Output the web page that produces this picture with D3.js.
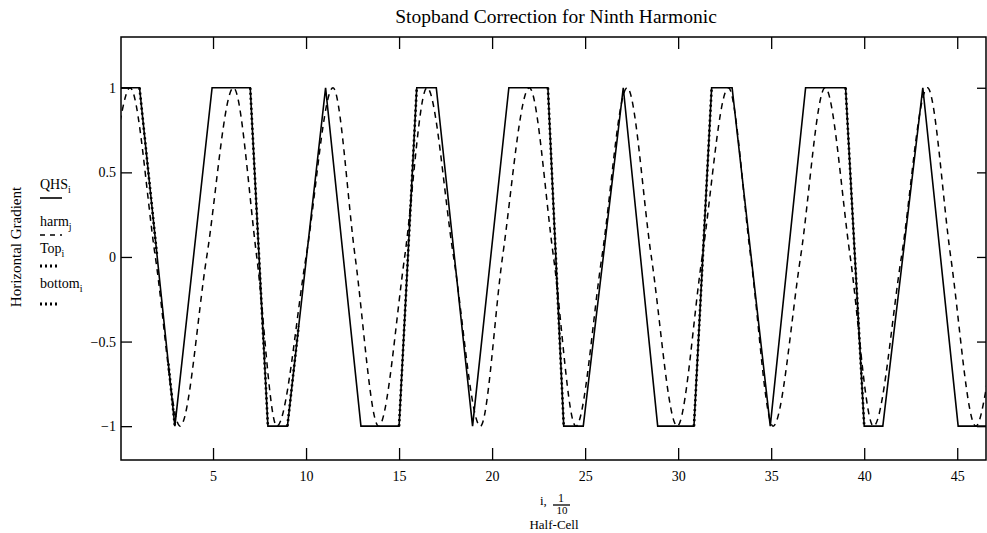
<!DOCTYPE html>
<html>
<head>
<meta charset="utf-8">
<script src="https://cdn.jsdelivr.net/npm/d3@7"></script>
<style>
  body { margin: 0; background: #fff; }
  svg { display: block; font-family: "Liberation Serif", "Times New Roman", serif; }
</style>
</head>
<body>
<svg id="chart" width="987" height="533"></svg>
<script>
// QHS - trapezoid / triangle wave (vertices)
var qhsX = [0, 1.05, 2.95, 4.95, 7.0, 7.95, 9.0, 11.05, 12.95, 15.0, 15.95, 17.0, 18.95, 20.9, 23.0, 23.85,
  24.9, 27.05, 28.9, 30.85, 31.8, 32.9, 34.95, 36.85, 39.0, 40.0, 41.0, 43.15, 45.05, 46.6];
var qhsY = [1, 1, -1, 1, 1, -1, -1, 1, -1, -1, 1, 1, -1, 1, 1, -1,
  -1, 1, -1, -1, 1, 1, -1, 1, 1, -1, -1, 1, -1, -1];

// harm - peaks, troughs and zero crossings
var harmX = [0, 0.54, 1.9, 3.23, 4.66, 6.1, 7.35, 8.43, 10.0, 11.45, 12.64, 13.9, 15.3, 16.5, 17.93, 19.37,
  20.56, 22.0, 23.3, 24.5, 25.9, 27.26, 28.56, 29.95, 31.29, 32.7, 33.9, 35.1, 36.58, 37.9, 39.25, 40.5,
  42.0, 43.4, 44.65, 46.0, 46.6];
var harmY = [0.8, 1, 0, -1, 0, 1, 0, -1, 0, 1, 0, -1, 0, 1, 0, -1,
  0, 1, 0, -1, 0, 1, 0, -1, 0, 1, 0, -1, 0, 1, 0, -1,
  0, 1, 0, -1, -0.75];

// Top / bottom - short dotted pieces lying on the steep edges
var topX = [1.05, 2.0, NaN, 7.0, 7.95, NaN, 23.0, 23.85, NaN, 39.0, 40.0];
var topY = [1, 0, NaN, 1, -1, NaN, 1, -1, NaN, 1, -1];
var bottomX = [2.6, 2.95, NaN, 9.0, 9.6, NaN, 15.0, 15.95, NaN, 30.85, 31.8];
var bottomY = [-0.63, -1, NaN, -1, -0.41, NaN, -1, 1, NaN, -1, 1];

var xTicks = [5, 10, 15, 20, 25, 30, 35, 40, 45];
var yTicks = [-1, -0.5, 0, 0.5, 1];
var yTickLabels = ["\u22121", "\u22120.5", "0", "0.5", "1"];

var plotL = 121, plotR = 986, plotT = 37, plotB = 460;

var svg = d3.select('#chart');

var x = d3.scaleLinear().domain([0, 46.6]).range([120, 987]);
var y = d3.scaleLinear().domain([-1.2, 1.3]).range([plotB, plotT]);

function pts(xs, ys) {
  return xs.map(function(v, i) { return [v, ys[i]]; });
}

// frame
svg.append('rect')
  .attr('x', plotL).attr('y', plotT)
  .attr('width', plotR - plotL).attr('height', plotB - plotT)
  .attr('fill', 'none').attr('stroke', '#000').attr('stroke-width', 1.5);

// bottom axis (ticks point up)
var xAxis = svg.append('g')
  .attr('transform', 'translate(0,' + plotB + ')')
  .call(d3.axisBottom(x).tickValues(xTicks).tickSizeInner(-12).tickSizeOuter(0).tickPadding(11));
// top ticks
var xTop = svg.append('g')
  .attr('transform', 'translate(0,' + plotT + ')')
  .call(d3.axisTop(x).tickValues(xTicks).tickSizeInner(-12).tickSizeOuter(0).tickFormat(''));
// left axis (ticks point right)
var yAxis = svg.append('g')
  .attr('transform', 'translate(' + plotL + ',0)')
  .call(d3.axisLeft(y).tickValues(yTicks).tickSizeInner(-11).tickSizeOuter(0).tickPadding(5)
    .tickFormat(function(d, i) { return yTickLabels[i]; }));
// right ticks
var yRight = svg.append('g')
  .attr('transform', 'translate(' + plotR + ',0)')
  .call(d3.axisRight(y).tickValues(yTicks).tickSizeInner(-9).tickSizeOuter(0).tickFormat(''));

[xAxis, xTop, yAxis, yRight].forEach(function(g) {
  g.select('.domain').remove();
  g.selectAll('line').attr('stroke', '#000').attr('stroke-width', 1.3);
  g.selectAll('text').attr('fill', '#000')
    .style('font-family', '"Liberation Serif", serif').style('font-size', '14px');
});

svg.append('clipPath').attr('id', 'plotclip')
  .append('rect').attr('x', plotL).attr('y', plotT).attr('width', plotR - plotL).attr('height', plotB - plotT);

var plot = svg.append('g').attr('clip-path', 'url(#plotclip)');

var line = d3.line()
  .defined(function(d) { return !isNaN(d[0]); })
  .x(function(d) { return x(d[0]); })
  .y(function(d) { return y(d[1]); });

plot.append('path')
  .datum(pts(harmX, harmY))
  .attr('fill', 'none').attr('stroke', '#000').attr('stroke-width', 1.5)
  .attr('stroke-dasharray', '6,5')
  .attr('d', line.curve(d3.curveMonotoneX));

line.curve(d3.curveLinear);

plot.append('path')
  .datum(pts(qhsX, qhsY))
  .attr('fill', 'none').attr('stroke', '#000').attr('stroke-width', 1.6)
  .attr('d', line);

plot.append('path')
  .datum(pts(topX, topY))
  .attr('fill', 'none').attr('stroke', '#000').attr('stroke-width', 2.6)
  .attr('stroke-dasharray', '2,3')
  .attr('d', line);

plot.append('path')
  .datum(pts(bottomX, bottomY))
  .attr('fill', 'none').attr('stroke', '#000').attr('stroke-width', 2.6)
  .attr('stroke-dasharray', '2,3')
  .attr('d', line);

// title
svg.append('text')
  .attr('x', 556).attr('y', 23)
  .attr('text-anchor', 'middle')
  .style('font-size', '19.5px')
  .text('Stopband Correction for Ninth Harmonic');

// y axis title
svg.append('text')
  .attr('transform', 'translate(21,247) rotate(-90)')
  .attr('text-anchor', 'middle')
  .style('font-size', '15px')
  .text('Horizontal Gradient');

// legend
var legendNames = ['QHS', 'harm', 'Top', 'bottom'];
var legendSubs = ['i', 'j', 'i', 'i'];
var legendDash = [null, '5,5', '2,3', '2,3'];
var legendTextY = [189, 226, 253, 288];
var legendLineY = [198, 235, 266, 304];
var lg = svg.append('g');
legendNames.forEach(function(n, i) {
  var t = lg.append('text').attr('x', 40).attr('y', legendTextY[i]).style('font-size', '14px');
  t.append('tspan').text(n);
  t.append('tspan').attr('dy', 4).style('font-size', '10px').text(legendSubs[i]);
  lg.append('line')
    .attr('x1', 40).attr('x2', legendDash[i] === '2,3' ? 57 : 62)
    .attr('y1', legendLineY[i]).attr('y2', legendLineY[i])
    .attr('stroke', '#000')
    .attr('stroke-width', legendDash[i] === '2,3' ? 2.8 : 1.6)
    .attr('stroke-dasharray', legendDash[i]);
});

// x axis title
var xt = svg.append('g').style('font-size', '13px');
xt.append('text').attr('x', 540).attr('y', 505).text('i,');
xt.append('text').attr('x', 561).attr('y', 502).style('font-size', '12px').attr('text-anchor', 'middle').text('1');
xt.append('line').attr('x1', 553).attr('x2', 570).attr('y1', 505).attr('y2', 505)
  .attr('stroke', '#000').attr('stroke-width', 1.3);
xt.append('text').attr('x', 562).attr('y', 514).style('font-size', '11px').attr('text-anchor', 'middle').text('10');
xt.append('text').attr('x', 554).attr('y', 529).attr('text-anchor', 'middle').text('Half-Cell');
</script>
</body>
</html>
